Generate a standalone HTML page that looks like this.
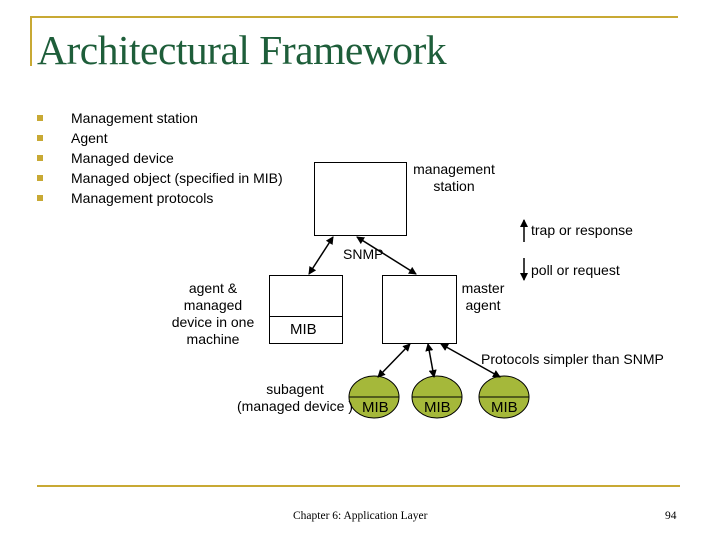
<!DOCTYPE html>
<html><head><style>
body{margin:0;width:720px;height:540px;background:#fff;position:relative;overflow:hidden;font-family:"Liberation Sans",sans-serif;}
.t{position:absolute;white-space:nowrap;color:#000;}
</style></head><body>
<div style="position:absolute;left:30px;top:16px;width:648px;height:2px;background:#c8a934"></div>
<div style="position:absolute;left:30px;top:16px;width:2px;height:50px;background:#c8a934"></div>
<div class="t" style="left:37px;top:26px;font-family:'Liberation Serif',serif;font-size:41.5px;color:#1e5e3a;letter-spacing:-0.5px">Architectural Framework</div>
<div style="position:absolute;left:37px;top:485px;width:643px;height:2px;background:#c8a934"></div>
<div class="t" style="left:293px;top:510px;font-family:'Liberation Serif',serif;font-size:11.5px">Chapter 6: Application Layer</div>
<div class="t" style="left:665px;top:510px;font-family:'Liberation Serif',serif;font-size:11.5px">94</div>
<div style="font-size:14px">
<div class="t" style="left:71px;top:110px">Management station</div>
<div class="t" style="left:71px;top:130px">Agent</div>
<div class="t" style="left:71px;top:150px">Managed device</div>
<div class="t" style="left:71px;top:170px">Managed object (specified in MIB)</div>
<div class="t" style="left:71px;top:190px">Management protocols</div>
</div>
<svg width="720" height="540" style="position:absolute;left:0;top:0">
<defs><marker id="a" markerWidth="8" markerHeight="8" refX="7" refY="4" orient="auto-start-reverse" markerUnits="userSpaceOnUse"><path d="M0,0L8,4L0,8z" fill="#000"/></marker></defs>
<g fill="#c8a934"><rect x="37" y="115" width="6" height="6"/><rect x="37" y="135" width="6" height="6"/><rect x="37" y="155" width="6" height="6"/><rect x="37" y="175" width="6" height="6"/><rect x="37" y="195" width="6" height="6"/></g>
<g fill="#fff" stroke="#000" stroke-width="1">
<rect x="314.5" y="162.5" width="92" height="73"/>
<rect x="269.5" y="275.5" width="73" height="68"/>
<line x1="269" y1="316.5" x2="342" y2="316.5"/>
<rect x="382.5" y="275.5" width="74" height="68"/>
</g>
<g fill="#a5b83a" stroke="#000">
<ellipse cx="374" cy="397" rx="25" ry="21"/><ellipse cx="437" cy="397" rx="25" ry="21"/><ellipse cx="504" cy="397" rx="25" ry="21"/>
<line x1="349" y1="397" x2="399" y2="397"/><line x1="412" y1="397" x2="462" y2="397"/><line x1="479" y1="397" x2="529" y2="397"/>
</g>
<g stroke="#000" stroke-width="1.5" marker-start="url(#a)" marker-end="url(#a)">
<line x1="333" y1="237" x2="309" y2="274"/>
<line x1="357" y1="237" x2="416" y2="274"/>
<line x1="410" y1="344" x2="378" y2="377"/>
<line x1="428" y1="344" x2="434" y2="377"/>
<line x1="441" y1="344" x2="500" y2="377"/>
</g>
<g stroke="#000" stroke-width="1.5">
<line x1="524" y1="242" x2="524" y2="220" marker-end="url(#a)"/>
<line x1="524" y1="258" x2="524" y2="280" marker-end="url(#a)"/>
</g>
</svg>
<div style="font-size:14px">
<div class="t" style="left:410px;top:161px;text-align:center;width:88px;line-height:17px">management<br>station</div>
<div class="t" style="left:531px;top:222px">trap or response</div>
<div class="t" style="left:531px;top:262px">poll or request</div>
<div class="t" style="left:343px;top:246px">SNMP</div>
<div class="t" style="left:163px;top:280px;width:100px;text-align:center;line-height:17px">agent &amp;<br>managed<br>device in one<br>machine</div>
<div class="t" style="left:290px;top:321px;font-size:15px">MIB</div>
<div class="t" style="left:458px;top:280px;line-height:17px;text-align:center;width:50px">master<br>agent</div>
<div class="t" style="left:481px;top:351px">Protocols simpler than SNMP</div>
<div class="t" style="left:230px;top:381px;line-height:17px;text-align:center;width:130px">subagent<br>(managed device )</div>
<div class="t" style="left:362px;top:399px;font-size:15px">MIB</div>
<div class="t" style="left:424px;top:399px;font-size:15px">MIB</div>
<div class="t" style="left:491px;top:399px;font-size:15px">MIB</div>
</div>
</body></html>
